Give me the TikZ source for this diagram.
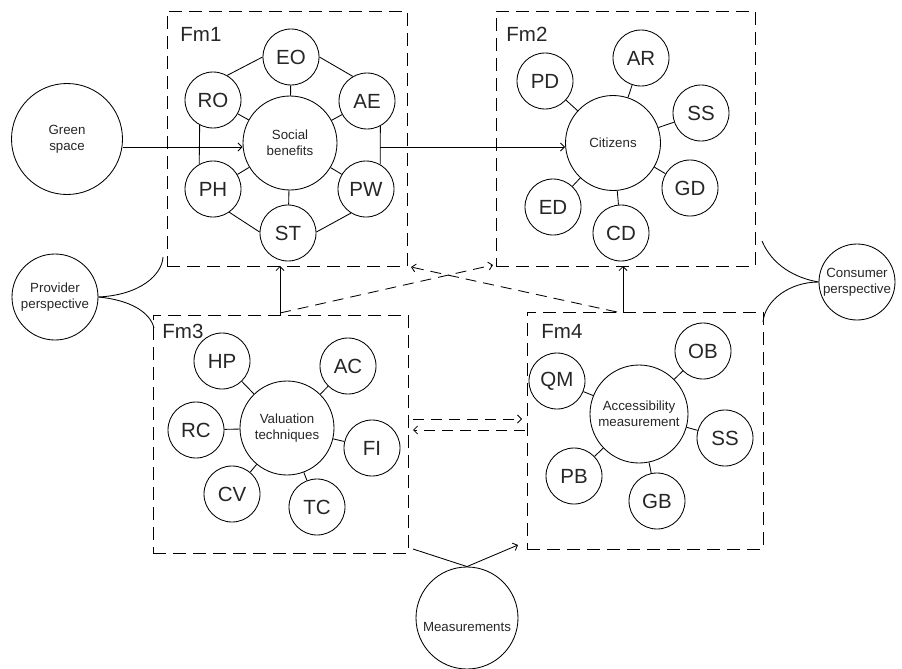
\documentclass[tikz,border=0pt]{standalone}
\usepackage{fontspec}
\setmainfont{Liberation Sans}
\usetikzlibrary{arrows.meta}
\begin{document}
\begin{tikzpicture}[x=1pt,y=-1pt,line width=0.85pt,
 every node/.style={text=black!85},
 sat/.style={circle,draw,minimum size=56pt,inner sep=0pt,font=\fontsize{20.5}{24}\selectfont},
 hub/.style={circle,draw,inner sep=0pt,align=center,font=\fontsize{13.3}{16}\selectfont},
 frame/.style={draw,dash pattern=on 13pt off 7pt,inner sep=0pt,outer sep=0pt},
 flabel/.style={inner sep=0pt,anchor=west,font=\fontsize{20.5}{24}\selectfont},
 arr/.style={-{Straight Barb[length=4pt,width=8pt]}},
 darr/.style={arr,dash pattern=on 11pt off 7pt}]
\useasboundingbox (0,0) rectangle (902,669);

% frames
\node[frame,minimum width=240pt,minimum height=255pt] (F1) at (287,138.5) {};
\node[frame,minimum width=259pt,minimum height=255pt] (F2) at (625.5,138.5) {};
\node[frame,minimum width=255pt,minimum height=238pt] (F3) at (280.5,434) {};
\node[frame,minimum width=236pt,minimum height=237pt] (F4) at (645,430.5) {};
\node[flabel] (L1) at (180,34) {Fm1};
\node[flabel] (L2) at (506,34) {Fm2};
\node[flabel] (L3) at (162,331) {Fm3};
\node[flabel] (L4) at (541,331) {Fm4};

% Fm1
\node[hub,minimum size=94pt] (SB) at (290,143) {Social\\benefits};
\node[sat] (EO) at (291,57) {EO};
\node[sat] (RO) at (213,100) {RO};
\node[sat] (AE) at (367,101) {AE};
\node[sat] (PH) at (213,189) {PH};
\node[sat] (PW) at (366,189) {PW};
\node[sat] (ST) at (288,233) {ST};
\foreach \s in {EO,RO,AE,PH,PW,ST} \draw (SB) -- (\s);
\draw (EO.180) -- (RO.60);
\draw (EO.0) -- (AE.120);
\draw (RO.242) -- (PH.119);
\draw (AE.-62) -- (PW.60);
\draw (PH.-55) -- (ST.178);
\draw (PW.238) -- (ST.2);

% Fm2
\node[hub,minimum size=95pt] (CI) at (613,143) {Citizens};
\node[sat] (PD) at (545,81) {PD};
\node[sat] (AR) at (641,58) {AR};
\node[sat] (SSa) at (701,113) {SS};
\node[sat] (GD) at (690,188) {GD};
\node[sat] (CD) at (621,233) {CD};
\node[sat] (ED) at (553,207) {ED};
\foreach \s in {PD,AR,SSa,GD,CD,ED} \draw (CI) -- (\s);

% Fm3
\node[hub,minimum size=94pt] (VT) at (287,428) {Valuation\\techniques};
\node[sat] (HP) at (222,361) {HP};
\node[sat] (AC) at (348,366) {AC};
\node[sat] (RC) at (196,430) {RC};
\node[sat] (FI) at (372,448) {FI};
\node[sat] (CV) at (232,494) {CV};
\node[sat] (TC) at (317,507) {TC};
\foreach \s in {HP,AC,RC,FI,CV,TC} \draw (VT) -- (\s);

% Fm4
\node[hub,minimum size=98pt] (AM) at (639,414) {Accessibility\\measurement};
\node[sat] (OB) at (703,351) {OB};
\node[sat] (QM) at (557,381) {QM};
\node[sat] (SSb) at (725,438) {SS};
\node[sat] (PB) at (574,476) {PB};
\node[sat] (GB) at (657,501) {GB};
\foreach \s in {OB,QM,SSb,PB,GB} \draw (AM) -- (\s);

% outer circles
\node[hub,minimum size=111pt] (GS) at (67,139) {Green\\space};
\node[hub,minimum size=86pt] (PP) at (55,297) {Provider\\perspective};
\node[hub,minimum size=76pt] (CP) at (857,282) {Consumer\\perspective};
\node[hub,minimum size=102pt] (MS) at (467,618) {};
\node[inner sep=0pt,font=\fontsize{13.3}{16}\selectfont] (MSt) at (467,627) {Measurements};

% connectors
\coordinate (sbout) at (380,147);
\draw[arr] (GS.east |- sbout) -- (SB.west |- sbout);
\draw[arr] (sbout) -- (CI.west |- sbout);

\coordinate (a3) at (280,315); \coordinate (a1) at (280,266);
\coordinate (a4) at (623,312); \coordinate (a2) at (623,266);
\draw[arr] (a3) -- (a1);
\draw[arr] (a4) -- (a2);

\coordinate (d3) at (280,313); \coordinate (d2) at (493,265);
\coordinate (d4) at (617,312); \coordinate (d1) at (411,267);
\draw[darr] (d3) -- (d2);
\draw[darr] (d4) -- (d1);

\coordinate (h3u) at (413,419); \coordinate (h4u) at (522,419);
\coordinate (h4l) at (525,430); \coordinate (h3l) at (413,430);
\draw[darr] (h3u) -- (h4u);
\draw[darr] (h4l) -- (h3l);

\coordinate (m3) at (413,549); \coordinate (m4) at (518,545);
\draw (m3) -- (MS.north);
\draw[arr] (MS.north) -- (m4);

\draw (PP.east) .. controls (140,295) and (162,275) .. (163,257);
\draw (PP.east) .. controls (130,300) and (150,312) .. (154,328);
\draw (CP.west) .. controls (795,278) and (772,265) .. (762,241);
\draw (CP.west) .. controls (790,282) and (765,300) .. (763,322);
\end{tikzpicture}
\end{document}
